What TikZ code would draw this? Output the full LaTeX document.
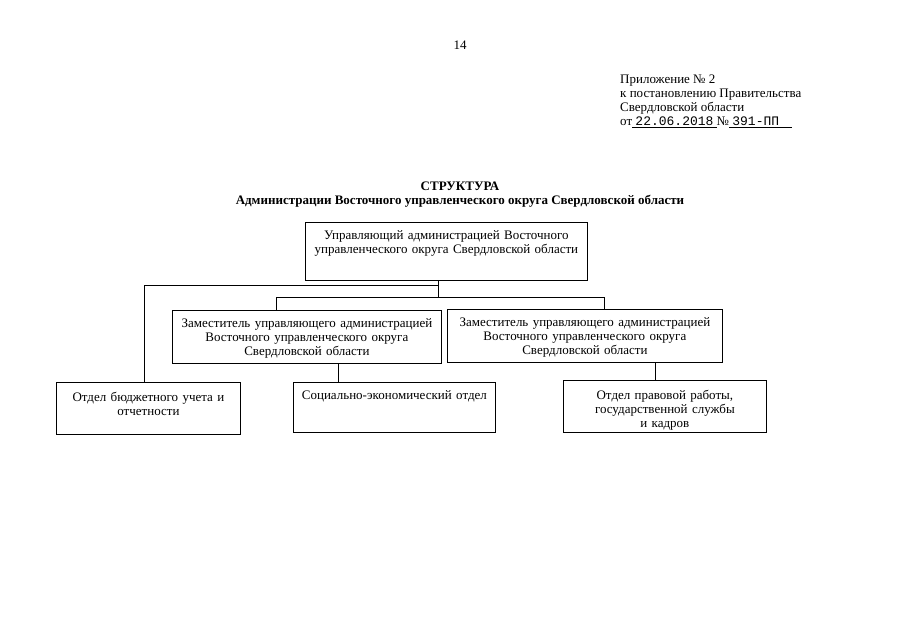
\documentclass[tikz,border=0pt]{standalone}
\usepackage{fontspec}
\setmainfont{Liberation Serif}
\newfontfamily\stampfont{Liberation Mono}
\usetikzlibrary{positioning, calc}

\begin{document}
\begin{tikzpicture}[
    x=1pt, y=-1pt,
    box/.style={draw, line width=0.8pt, anchor=north west, align=center,
                inner xsep=0pt, inner ysep=4pt, text height=13pt,
                font=\fontsize{13}{14}\selectfont},
    link/.style={line width=0.6pt},
    doc/.style={font=\fontsize{13}{14}\selectfont, inner sep=0pt}
  ]
  \useasboundingbox[fill=white] (0,0) rectangle (905,640);

  \node[doc] (pagenum) at (460,45) {14};

  \node[doc, anchor=north west, align=left] (annex) at (620,75)
    {Приложение № 2\\ к постановлению Правительства\\ Свердловской области\\
     от\underline{\ {\stampfont 22.06.2018}\ }№\underline{\ {\stampfont 391-ПП}\ \ \ \ }};

  \node[doc, font=\fontsize{13}{14}\selectfont\bfseries, align=center] (title) at (460,195)
    {СТРУКТУРА\\ Администрации Восточного управленческого округа Свердловской области};

  % boxes
  \node[box, text width=282pt, text depth=37pt] (head) at (305,222)
    {Управляющий администрацией Восточного\\ управленческого округа Свердловской области};
  \node[box, text width=269pt, text depth=32pt] (depL) at (172,310)
    {Заместитель управляющего администрацией\\ Восточного управленческого округа\\ Свердловской области};
  \node[box, text width=275pt, text depth=32pt] (depR) at (447,309)
    {Заместитель управляющего администрацией\\ Восточного управленческого округа\\ Свердловской области};
  \node[box, text width=184pt, text height=15pt, text depth=29pt] (budget) at (56,382)
    {Отдел бюджетного учета и\\ отчетности};
  \node[box, text width=202pt, text depth=29pt] (socec) at (293,382)
    {Социально-экономический отдел};
  \node[box, text width=203pt, text height=15pt, text depth=29pt] (legal) at (563,380)
    {Отдел правовой работы,\\ государственной службы\\ и кадров};

  % connectors
  \coordinate (stem) at (438,285);
  \coordinate (bus) at (438,297);
  \coordinate (busL) at (276,297);
  \coordinate (busR) at (604,297);
  \coordinate (socin) at ([xshift=45pt]socec.north west);
  \coordinate (legin) at ([xshift=92pt]legal.north west);

  \draw[link] (head.south -| bus) -- (bus);
  \draw[link] (stem) -| ([xshift=-4pt]budget.north);
  \draw[link] (busL |- depL.north) |- (busR) -- (busR |- depR.north);
  \draw[link] (socin |- depL.south) -- (socin);
  \draw[link] (legin |- depR.south) -- (legin);
\end{tikzpicture}
\end{document}
